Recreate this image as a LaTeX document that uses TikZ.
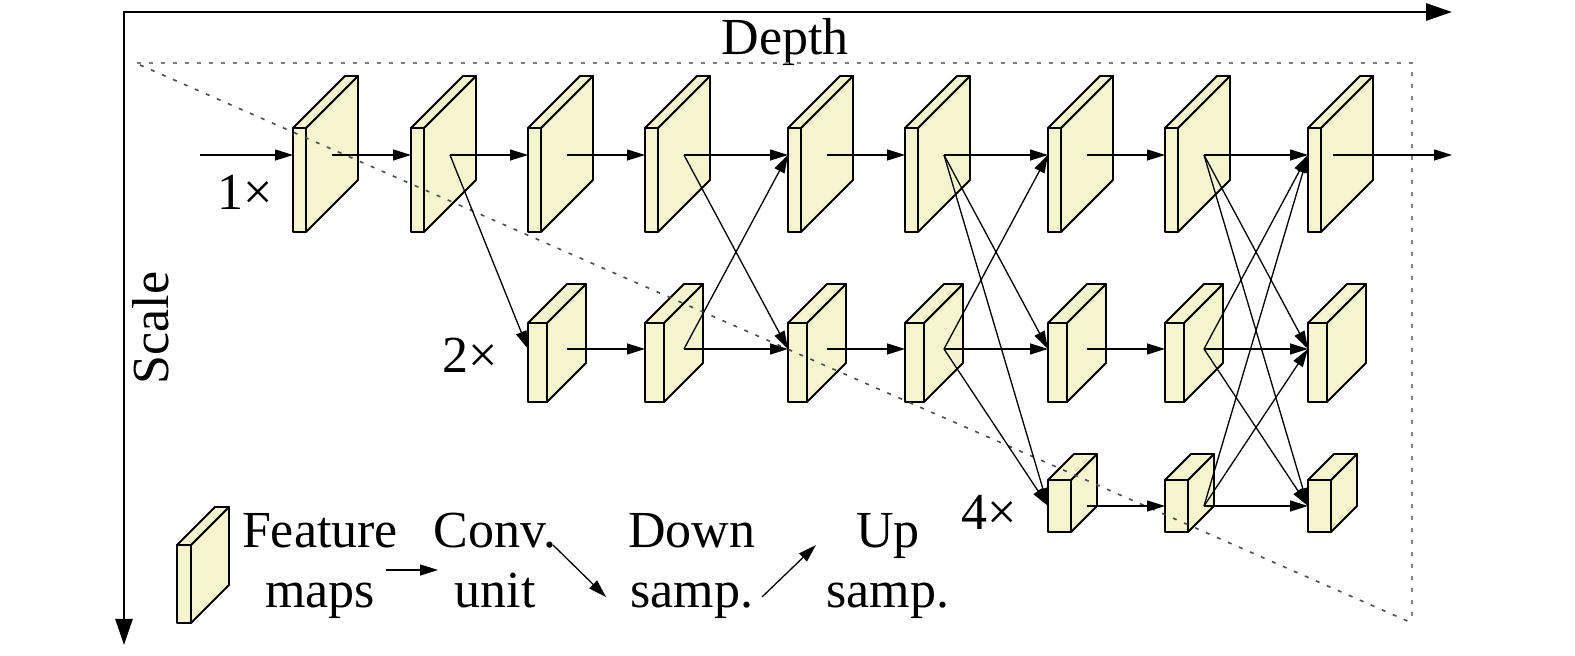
\documentclass[tikz,border=0pt]{standalone}
\usepackage{fontspec}
\setmainfont{Liberation Serif}
\usepackage{tikz}
\usetikzlibrary{arrows.meta}
\definecolor{mapyellow}{RGB}{244,245,206}

\begin{document}
\begin{tikzpicture}[x=0.5pt, y=-0.5pt,
        fmap/.style={fill=mapyellow, draw=black, line width=0.9pt, line join=round},
        conv/.style={-{Triangle[length=9pt, width=5.5pt]}, line width=0.65pt},
        axis/.style={{Triangle[length=13pt, width=8.5pt]}-{Triangle[length=13pt, width=8.5pt]}, line width=1.4pt},
        guide/.style={dash pattern=on 2pt off 4pt, line width=0.8pt},
        lbl/.style={font=\fontsize{26}{30}\selectfont, inner sep=0pt}]
    \useasboundingbox (0,0) rectangle (1575,656);

    % Draw axes
    \coordinate (depth) at (1452,12);
    \coordinate (corner) at (124,12);
    \coordinate (scale) at (124,645);
    \draw[axis] (depth) -- (corner) -- (scale);
    \node[lbl, anchor=base] (depthlbl) at (785,55) {Depth};
    \node[lbl, anchor=base, rotate=90] (scalelbl) at (168,328) {Scale};

    % Feature maps at 1x
    \foreach \c/\x in {1/293, 2/411, 3/528, 4/645, 5/788, 6/905, 7/1048, 8/1165, 9/1308} {
        \filldraw[fmap] (\x,128) rectangle ++(13,104);
        \filldraw[fmap] (\x+13,128) -- ++(52,-52) -- ++(0,104) -- ++(-52,52) -- cycle;
        \filldraw[fmap] (\x,128) -- ++(52,-52) -- ++(13,0) -- ++(-52,52) -- cycle;
        \coordinate (m1-\c-in) at (\x,155);
        \coordinate (m1-\c-out) at (\x+39,155);
    }
    % Feature maps at 2x
    \foreach \c/\x in {3/528, 4/645, 5/788, 6/905, 7/1048, 8/1165, 9/1308} {
        \filldraw[fmap] (\x,323) rectangle ++(19,79);
        \filldraw[fmap] (\x+19,323) -- ++(39,-39) -- ++(0,79) -- ++(-39,39) -- cycle;
        \filldraw[fmap] (\x,323) -- ++(39,-39) -- ++(19,0) -- ++(-39,39) -- cycle;
        \coordinate (m2-\c-in) at (\x,349);
        \coordinate (m2-\c-out) at (\x+39,349);
    }
    % Feature maps at 4x
    \foreach \c/\x in {7/1048, 8/1165, 9/1308} {
        \filldraw[fmap] (\x,480) rectangle ++(23,52);
        \filldraw[fmap] (\x+23,480) -- ++(26,-26) -- ++(0,52) -- ++(-26,26) -- cycle;
        \filldraw[fmap] (\x,480) -- ++(26,-26) -- ++(23,0) -- ++(-26,26) -- cycle;
        \coordinate (m4-\c-in) at (\x,506);
        \coordinate (m4-\c-out) at (\x+39,506);
    }

    % Dotted guide lines
    \draw[guide, gray] (137,63) -- (1412,63) -- (1412,623);
    \draw[guide, black!70] (140,65) -- (1412,623);

    % Scale labels
    \node[lbl, anchor=base] (x1) at (245,210) {1×};
    \node[lbl, anchor=base] (x2) at (470,373) {2×};
    \node[lbl, anchor=base] (x4) at (989,530) {4×};

    % Conv. units
    \coordinate (input) at (200,155);
    \coordinate (output) at (1452,155);
    \coordinate (m1-9-out) at (1333,155);
    \draw[conv] (input) -- (m1-1-in);
    \foreach \a/\b in {1/2, 2/3, 3/4, 4/5, 5/6, 6/7, 7/8, 8/9}
        \draw[conv] (m1-\a-out) -- (m1-\b-in);
    \foreach \a/\b in {3/4, 4/5, 5/6, 6/7, 7/8, 8/9}
        \draw[conv] (m2-\a-out) -- (m2-\b-in);
    \foreach \a/\b in {7/8, 8/9}
        \draw[conv] (m4-\a-out) -- (m4-\b-in);
    \draw[conv] (m1-9-out) -- (output);

    % Down and up sampling
    \foreach \s/\t in {m1-2/m2-3, m1-4/m2-5, m2-4/m1-5, m1-6/m2-7, m1-6/m4-7, m2-6/m1-7, m2-6/m4-7,
                       m1-8/m2-9, m1-8/m4-9, m2-8/m1-9, m2-8/m4-9, m4-8/m1-9, m4-8/m2-9}
        \draw[conv] (\s-out) -- (\t-in);

    % Legend
    \filldraw[fmap] (177,545) rectangle ++(14,78);
    \filldraw[fmap] (191,545) -- ++(38,-38) -- ++(0,78) -- ++(-38,38) -- cycle;
    \filldraw[fmap] (177,545) -- ++(38,-38) -- ++(14,0) -- ++(-38,38) -- cycle;
    \node[lbl, align=center] (featlbl) at (320,566) {\strut Feature\\\strut maps};
    \node[lbl, align=center] (convlbl) at (495,566) {\strut Conv.\\\strut unit};
    \node[lbl, align=center] (downlbl) at (692,566) {\strut Down\\\strut samp.};
    \node[lbl, align=center] (uplbl) at (888,566) {\strut Up\\\strut samp.};
    \draw[conv] (386,570) -- (438,570);
    \draw[conv] (553,545) -- (606,597);
    \draw[conv] (762,597) -- (816,545);
\end{tikzpicture}
\end{document}
